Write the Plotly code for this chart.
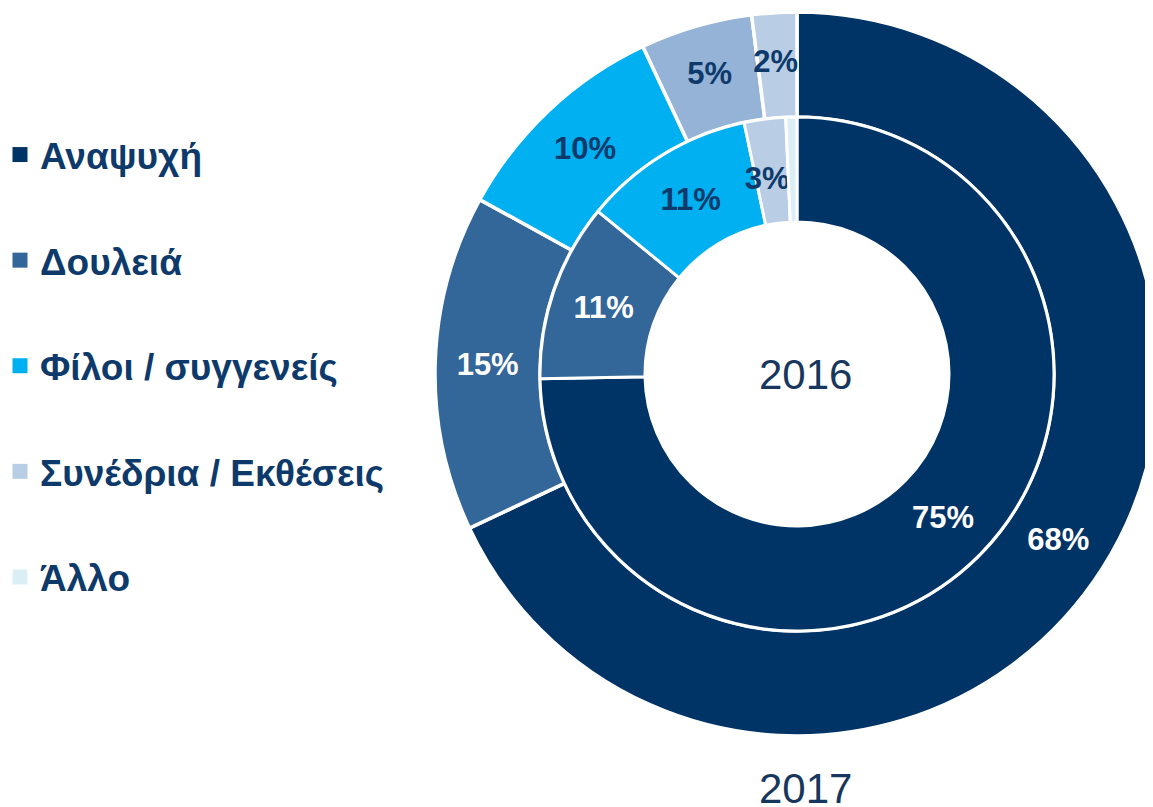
import plotly.graph_objects as go

categories = ["Αναψυχή", "Δουλειά", "Φίλοι / συγγενείς", "Συνέδρια / Εκθέσεις", "Άλλο"]
legend_colors = ["#003366", "#336699", "#00B0F0", "#B9CDE5", "#DAEEF3"]

values_2017 = [68, 15, 10, 5, 2]
labels_2017 = ["68%", "15%", "10%", "5%", "2%"]
colors_2017 = ["#003366", "#336699", "#00B0F0", "#95B3D7", "#B9CDE5"]
names_2017 = ["Αναψυχή", "Δουλειά", "Φίλοι / συγγενείς", "Συνέδρια / Εκθέσεις", "Άλλο "]

values_2016 = [74.7, 11.2, 10.8, 2.6, 0.7]
labels_2016 = ["75%", "11%", "11%", "3%", ""]
colors_2016 = ["#003366", "#336699", "#00B0F0", "#B9CDE5", "#DAEEF3"]

text_colors = {"#003366": "white", "#336699": "white"}
navy = "#0E3A6B"
FONT = "Liberation Sans, Arial, sans-serif"
LABEL_SIZE = 31

W, H = 1153, 807
cx, cy = 789, 366           # centre in figure pixels (from top)
r_out, r_mid, r_in = 362, 257, 152

# narrow slices: plotly puts their label near the outer arc; pad with
# invisible lines above so the visible label sits nearer the ring middle
pad_2017 = ["", "", "", "", "<span style='font-size:46px;color:rgba(0,0,0,0)'>.</span><br>"]
pad_2016 = ["", "", "", "<span style='color:rgba(0,0,0,0)'>.</span><br>" * 2, ""]

def padded(labels, pads):
    return [(p + t) if t else t for t, p in zip(labels, pads)]

def dom(r):
    x0 = (cx - r) / W
    x1 = min((cx + r) / W, 1.0)
    yb = H - cy
    return dict(x=[x0, x1], y=[(yb - r) / H, (yb + r) / H])

fig = go.Figure()

fig.add_trace(go.Pie(
    values=values_2017, labels=names_2017, text=padded(labels_2017, pad_2017),
    textinfo="text", textposition="inside", insidetextorientation="horizontal",
    sort=False, direction="clockwise", rotation=0, hole=r_mid / r_out,
    domain=dom(r_out),
    marker=dict(colors=colors_2017, line=dict(color="white", width=3.5)),
    insidetextfont=dict(family=FONT, size=LABEL_SIZE, weight="bold",
                        color=[text_colors.get(c, navy) for c in colors_2017]),
    showlegend=False, hoverinfo="skip",
))

fig.add_trace(go.Pie(
    values=values_2016, labels=categories, text=padded(labels_2016, pad_2016),
    textinfo="text", textposition="inside", insidetextorientation="horizontal",
    sort=False, direction="clockwise", rotation=0, hole=r_in / r_mid,
    domain=dom(r_mid),
    marker=dict(colors=colors_2016, line=dict(color="white", width=3)),
    insidetextfont=dict(family=FONT, size=LABEL_SIZE, weight="bold",
                        color=[text_colors.get(c, navy) for c in colors_2016]),
    showlegend=False, hoverinfo="skip",
))

for name, col in zip(categories, legend_colors):
    fig.add_trace(go.Scatter(
        x=[None], y=[None], mode="markers", name=name, legendgroup=name,
        marker=dict(symbol="square", size=15, color=col),
        showlegend=True, hoverinfo="skip",
    ))

fig.add_annotation(text="2016", x=797.5 / W, y=(H - 366) / H, xref="paper", yref="paper",
                   xanchor="center", yanchor="middle",
                   showarrow=False, font=dict(family=FONT, size=42, color="#17375E"))
fig.add_annotation(text="2017", x=797.5 / W, y=(H - 780) / H, xref="paper", yref="paper",
                   xanchor="center", yanchor="middle",
                   showarrow=False, font=dict(family=FONT, size=42, color="#17375E"))

fig.update_layout(
    width=W, height=H,
    margin=dict(l=0, r=0, t=0, b=0),
    paper_bgcolor="white", plot_bgcolor="white",
    xaxis=dict(visible=False), yaxis=dict(visible=False),
    uniformtext=dict(minsize=LABEL_SIZE, mode="show"),
    legend=dict(x=0, y=(H - 116) / H, xanchor="left", yanchor="top",
                indentation=-8,
                font=dict(family=FONT, size=37, weight="bold", color=navy),
                tracegroupgap=54.5, itemsizing="trace", bgcolor="rgba(0,0,0,0)"),
)

fig.write_html("out.html")
